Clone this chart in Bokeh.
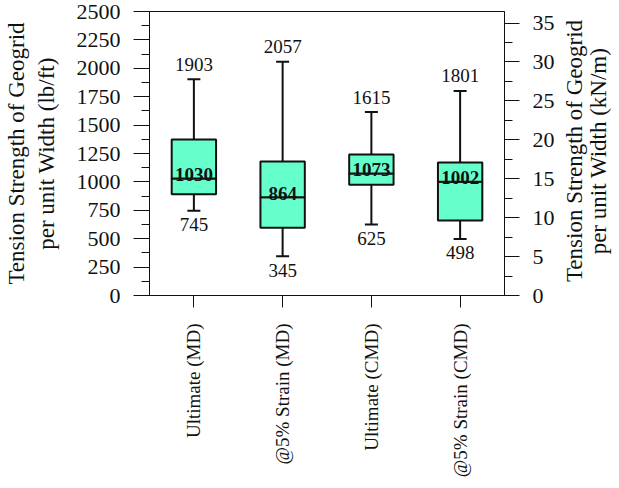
import math
from bokeh.plotting import figure
from bokeh.layouts import row
from bokeh.models import Range1d, LinearAxis, SingleIntervalTicker
from bokeh.core.properties import value
from bokeh.embed import file_html
from bokeh.resources import INLINE

# ---- data ----
categories = ["Ultimate (MD)", "@5% Strain (MD)", "Ultimate (CMD)", "@5% Strain (CMD)"]
whisker_max = [1903, 2057, 1615, 1801]
q3 = [1373, 1180, 1241, 1171]
median = [1030, 864, 1073, 1002]
q1 = [892, 596, 974, 660]
whisker_min = [745, 345, 625, 498]
LBFT_PER_KNM = 68.52
y_max_lbft = 2500
left_title = "Tension Strength of Geogrid\nper unit Width (lb/ft)"
right_title_lines = ["Tension Strength of Geogrid", "per unit Width (kN/m)"]

FONT = "Liberation Serif"
INK = "#111111"
FILL = "#66FFCC"

TOP, FH, BOTTOM = 11, 284, 180
H = TOP + FH + BOTTOM
W2 = 55

p = figure(x_range=categories, y_range=Range1d(0, y_max_lbft),
           frame_width=355, frame_height=FH, output_backend="svg", toolbar_location=None,
           min_border_left=141, min_border_right=52, min_border_top=TOP, min_border_bottom=BOTTOM)
p.extra_y_ranges = {"knm": Range1d(0, y_max_lbft / LBFT_PER_KNM)}
p.xgrid.visible = False
p.ygrid.visible = False
p.outline_line_color = INK
p.outline_line_width = 1
p.background_fill_color = "white"
p.border_fill_color = "white"

# whiskers
p.segment(x0=categories, y0=q3, x1=categories, y1=whisker_max, line_color=INK, line_width=2)
p.segment(x0=categories, y0=q1, x1=categories, y1=whisker_min, line_color=INK, line_width=2)
p.scatter(x=categories, y=whisker_max, marker="dash", size=13, line_color=INK, line_width=2)
p.scatter(x=categories, y=whisker_min, marker="dash", size=13, line_color=INK, line_width=2)

# boxes
p.vbar(x=categories, bottom=q1, top=median, width=0.5, fill_color=FILL, line_color=INK, line_width=2)
p.vbar(x=categories, bottom=median, top=q3, width=0.5, fill_color=FILL, line_color=INK, line_width=2)

# value labels
p.text(x=categories, y=whisker_max, text=[str(v) for v in whisker_max], text_font=value(FONT),
       text_font_size="19px", text_align="center", text_baseline="alphabetic", y_offset=-15, text_color=INK)
p.text(x=categories, y=whisker_min, text=[str(v) for v in whisker_min], text_font=value(FONT),
       text_font_size="19px", text_align="center", text_baseline="alphabetic", y_offset=14, text_color=INK)
p.text(x=categories, y=median, text=[str(v) for v in median], text_font=value(FONT),
       text_font_size="19px", text_font_style="bold", text_align="center", text_baseline="alphabetic",
       y_offset=-4, text_color=INK)

def style_y(ax):
    ax.axis_label_text_font = FONT
    ax.axis_label_text_font_size = "23px"
    ax.axis_label_text_font_style = "normal"
    ax.axis_label_text_color = INK
    ax.axis_label_standoff = 15
    ax.major_label_text_font = FONT
    ax.major_label_text_font_size = "22px"
    ax.major_label_text_color = INK
    ax.major_label_standoff = 13
    ax.major_tick_in = 0
    ax.major_tick_out = 16
    ax.minor_tick_in = 0
    ax.minor_tick_out = 8
    ax.axis_line_color = INK
    ax.major_tick_line_color = INK
    ax.minor_tick_line_color = INK

yl = p.yaxis[0]
yl.ticker = SingleIntervalTicker(interval=250, num_minor_ticks=2)
style_y(yl)
yl.axis_label = left_title

yr = LinearAxis(y_range_name="knm", ticker=SingleIntervalTicker(interval=5, num_minor_ticks=2))
style_y(yr)
yr.major_tick_out = 15
p.add_layout(yr, "right")

xa = p.xaxis[0]
xa.major_label_orientation = math.pi / 2
xa.major_label_text_font = FONT
xa.major_label_text_font_size = "19px"
xa.major_label_text_color = INK
xa.major_label_standoff = 16
xa.major_tick_in = 0
xa.major_tick_out = 12
xa.axis_line_color = INK
xa.major_tick_line_color = INK

# narrow companion panel holding the right-hand title (reads bottom-to-top);
# its frame is aligned with the main frame by the row layout
p2 = figure(width=W2, height=H, x_range=Range1d(0, W2), y_range=Range1d(0, 1),
            output_backend="svg", toolbar_location=None, min_border=0)
p2.axis.visible = False
p2.grid.visible = False
p2.outline_line_color = None
p2.background_fill_color = "white"
p2.border_fill_color = "white"
p2.text(x=[17, 41], y=[0.5, 0.5], text=right_title_lines, angle=math.pi / 2,
        text_align="center", text_baseline="middle", text_font=value(FONT),
        text_font_size="23px", text_color=INK)

layout = row(p, p2)
open("out.html", "w").write(file_html(layout, INLINE))
